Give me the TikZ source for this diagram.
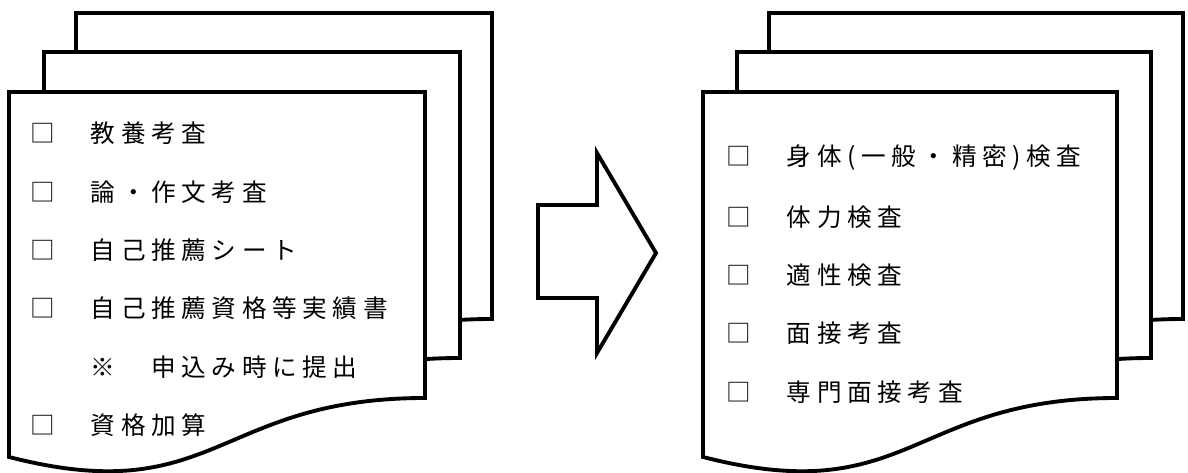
\documentclass[tikz,border=0pt]{standalone}
\usepackage{fontspec}
\newfontfamily\jpfont{Noto Sans CJK JP}[LetterSpace=23]

\begin{document}
\begin{tikzpicture}[x=0.02cm, y=-0.02cm,
    sheet/.style={draw=black, fill=white, line width=2.2pt},
    item/.style={anchor=west, inner sep=0pt, font=\jpfont\fontsize{14pt}{16pt}\selectfont}]
                \useasboundingbox (0,0) rectangle (1188,473);

                % --- LEFT STACK (back to front) ---
                \foreach \dx/\dy in {67/-79, 35/-40, 0/0}
                    \filldraw[sheet, shift={(\dx,\dy)}] (9,92) -- (425,92) -- (425,398)
                        .. controls (216,398) and (216,510) .. (9,457) -- cycle;

                % --- RIGHT STACK (back to front) ---
                \foreach \dx/\dy in {66/-79, 34/-40, 0/0}
                    \filldraw[sheet, shift={(\dx,\dy)}] (703,92) -- (1117,92) -- (1117,398)
                        .. controls (910,398) and (910,510) .. (703,457) -- cycle;

                % --- ARROW ---
                \draw[sheet] (538,205) -- (597,205) -- (597,153) -- (656,253)
                    -- (597,353) -- (597,298) -- (538,298) -- cycle;

                % --- LEFT ITEMS ---
                \node[item] (l1) at (30,133) {□　教養考査};
                \node[item] (l2) at (30,192) {□　論・作文考査};
                \node[item] (l3) at (30,250) {□　自己推薦シート};
                \node[item] (l4) at (30,308) {□　自己推薦資格等実績書};
                \node[item] (l5) at (30,367) {　　※　申込み時に提出};
                \node[item] (l6) at (30,425) {□　資格加算};

                % --- RIGHT ITEMS ---
                \node[item] (r1) at (726,158) {□　身体(一般・精密)検査};
                \node[item] (r2) at (726,217) {□　体力検査};
                \node[item] (r3) at (726,275) {□　適性検査};
                \node[item] (r4) at (726,333) {□　面接考査};
                \node[item] (r5) at (726,392) {□　専門面接考査};
\end{tikzpicture}
\end{document}
